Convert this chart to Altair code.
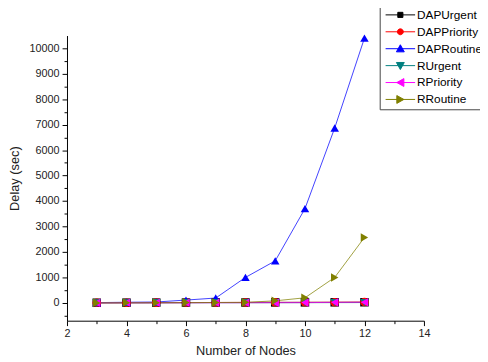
import altair as alt
import pandas as pd

nodes = [3, 4, 5, 6, 7, 8, 9, 10, 11, 12]
dap_urgent = [5, 8, 10, 12, 15, 15, 18, 20, 22, 25]
dap_priority = [5, 8, 10, 12, 15, 18, 20, 22, 25, 30]
dap_routine = [10, 25, 35, 110, 190, 1000, 1650, 3700, 6870, 10400]
r_urgent = [0, 2, 3, 4, 5, 5, 6, 8, 10, 12]
r_priority = [0, 2, 3, 4, 5, 6, 8, 10, 20, 25]
r_routine = [0, 2, 5, 10, 15, 20, 80, 200, 1000, 2570]

series = ["DAPUrgent", "DAPPriority", "DAPRoutine", "RUrgent", "RPriority", "RRoutine"]
values = [dap_urgent, dap_priority, dap_routine, r_urgent, r_priority, r_routine]
colors = ["#000000", "#ff0000", "#0000ff", "#008080", "#ff00ff", "#808000"]
shapes = ["square", "circle", "triangle-up", "triangle-down", "triangle-left", "triangle-right"]

# legend glyphs: a line with the marker in the middle (units of 4 px)
glyphs = [
    "M-1,0H6.5M2.1,-0.65H3.4V0.65H2.1Z",
    "M-1,0H6.5M2.0,0A0.75,0.75 0 1,0 3.5,0A0.75,0.75 0 1,0 2.0,0Z",
    "M-1,0H6.5M2.75,-1.0L3.75,0.8L1.75,0.8Z",
    "M-1,0H6.5M2.75,1.0L3.75,-0.8L1.75,-0.8Z",
    "M-1,0H6.5M1.85,0L3.65,-1.0L3.65,1.0Z",
    "M-1,0H6.5M3.65,0L1.85,-1.0L1.85,1.0Z",
]

rows = []
for s, vals in zip(series, values):
    for n, v in zip(nodes, vals):
        rows.append({"nodes": n, "delay": v, "series": s})
df = pd.DataFrame(rows)

font = "Liberation Sans"
xscale = alt.Scale(domain=[2, 14], nice=False)
yscale = alt.Scale(domain=[-700, 10500], nice=False, zero=False)
cscale = alt.Scale(domain=series, range=colors)

lines = alt.Chart(df).mark_line(strokeWidth=1, opacity=0.75).encode(
    x=alt.X("nodes:Q", scale=xscale,
            axis=alt.Axis(values=[2, 4, 6, 8, 10, 12, 14], title="Number of Nodes", grid=False,
                          tickSize=5, labelFont=font, labelFontSize=11, labelColor="#222",
                          titleFont=font, titleFontSize=13, titleFontWeight="normal",
                          titleColor="#222", domainColor="#000", tickColor="#000",
                          labelPadding=2, titlePadding=6, labelFlush=False)),
    y=alt.Y("delay:Q", scale=yscale,
            axis=alt.Axis(values=list(range(0, 10001, 1000)), format="d", title="Delay (sec)",
                          grid=False, tickSize=5, labelFont=font, labelFontSize=11,
                          labelColor="#222", titleFont=font, titleFontSize=13,
                          titleFontWeight="normal", titleColor="#222", domainColor="#000",
                          tickColor="#000", labelPadding=3, titlePadding=8)),
    color=alt.Color("series:N", sort=series, scale=cscale, legend=None),
    detail="series:N",
    order="nodes:Q",
)

points = alt.Chart(df).mark_point(filled=True, size=75, opacity=1).encode(
    x=alt.X("nodes:Q", scale=xscale, axis=None),
    y=alt.Y("delay:Q", scale=yscale, axis=None),
    color=alt.Color("series:N", sort=series, scale=cscale, legend=None),
    shape=alt.Shape("series:N", sort=series, scale=alt.Scale(domain=series, range=shapes), legend=None),
)

legend = alt.Legend(
    title=None, orient="none", legendX=318, legendY=-31,
    strokeColor="#444", fillColor="white", padding=4,
    labelFont=font, labelFontSize=12, labelColor="#000",
    symbolSize=64, symbolStrokeWidth=1, symbolOpacity=1, rowPadding=5.2, labelOffset=22,
)

legend_layer = alt.Chart(df).transform_filter("false").mark_point(filled=True, size=64).encode(
    color=alt.Color("series:N", sort=series, scale=alt.Scale(domain=series, range=colors), legend=legend),
    stroke=alt.Stroke("series:N", sort=series, scale=alt.Scale(domain=series, range=colors), legend=legend),
    shape=alt.Shape("series:N", sort=series, scale=alt.Scale(domain=series, range=glyphs), legend=legend),
)

minor_x = alt.Chart(pd.DataFrame({"nodes": [3]})).mark_point(opacity=0).encode(
    x=alt.X("nodes:Q", scale=xscale,
            axis=alt.Axis(values=[3, 5, 7, 9, 11, 13], labels=False, title=None, domain=False,
                          grid=False, tickSize=3, tickColor="#000", orient="bottom")),
)
minor_y = alt.Chart(pd.DataFrame({"delay": [0]})).mark_point(opacity=0).encode(
    y=alt.Y("delay:Q", scale=yscale,
            axis=alt.Axis(values=list(range(-500, 10500, 1000)), labels=False, title=None,
                          domain=False, grid=False, tickSize=3, tickColor="#000", orient="left")),
)

chart = alt.layer(lines, points, minor_x, minor_y, legend_layer).resolve_axis(
    x="independent", y="independent"
).resolve_scale(
    color="independent", shape="independent", stroke="independent"
).properties(
    width=363, height=290,
    autosize=alt.AutoSizeParams(type="none"),
    padding={"left": 60, "top": 25, "right": 57, "bottom": 39},
).configure_view(stroke=None)

chart.save("out.html", embed_options={"renderer": "svg", "actions": False})
